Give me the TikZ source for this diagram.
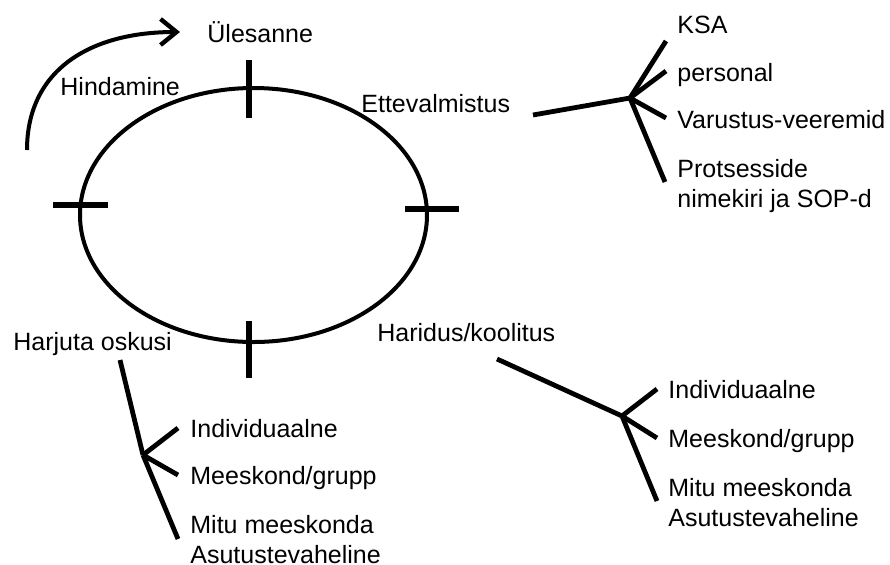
\documentclass[tikz,border=0pt]{standalone}
\usepackage{fontspec}
\setmainfont{Liberation Sans}
\usetikzlibrary{arrows.meta}
\tikzset{
  lbl/.style={anchor=base west, inner sep=0pt, align=left, font=\fontsize{12.5}{15}\selectfont},
  branch/.style={line width=2.4pt, line cap=butt},
  tick/.style={line width=2.6pt},
}
\begin{document}
\begin{tikzpicture}[x=0.5pt, y=-0.5pt]
\def\ringwidth{2pt}
\useasboundingbox (0,0) rectangle (890,564);

% RING
\draw[line width=\ringwidth] (253.5,215) ellipse [x radius=173.5, y radius=127];
\draw[tick] (249,60) -- (249,118);
\draw[tick] (53,205) -- (108,205);
\draw[tick] (405,209) -- (459,209);
\draw[tick] (249,321) -- (249,378);

% CYCLE LABELS
\node[lbl] (task) at (207,42) {Ülesanne};
\node[lbl] (eval) at (60,95) {Hindamine};
\node[lbl] (prep) at (361,112) {Ettevalmistus};
\node[lbl] (edu) at (377,341) {Haridus/koolitus};
\node[lbl] (drill) at (13,350) {Harjuta oskusi};

% ARROW
\coordinate (arrstart) at (27,150);
\coordinate (arrend) at (180,32);
\draw[line width=\ringwidth, -{Straight Barb[length=8pt, width=13pt, line width=2.2pt]}]
  (arrstart) .. controls (27,70) and (90,32) .. (arrend);

\begin{scope} % PREPARATION BRANCH
\coordinate (p0) at (533,115);
\coordinate (pj) at (630,98);
\coordinate (p1) at (666,41);
\coordinate (p2) at (666,71);
\coordinate (p3) at (666,118);
\coordinate (p4) at (665,182);
\draw[branch] (p0) -- (pj);
\draw[branch] (pj) -- (p1);
\draw[branch] (pj) -- (p2);
\draw[branch] (pj) -- (p3);
\draw[branch] (pj) -- (p4);
\node[lbl] (ksa) at (677,33) {KSA};
\node[lbl] (staff) at (677,81) {personal};
\node[lbl] (gear) at (677,128) {Varustus-veeremid};
\node[lbl] (sop) at (677,207) {Protsesside\\nimekiri ja SOP-d};
\end{scope}

\begin{scope} % EDUCATION BRANCH
\coordinate (e0) at (497,359);
\coordinate (ej) at (622,416);
\coordinate (e1) at (657,389);
\coordinate (e2) at (657,438);
\coordinate (e3) at (657,501);
\draw[branch] (e0) -- (ej);
\draw[branch] (ej) -- (e1);
\draw[branch] (ej) -- (e2);
\draw[branch] (ej) -- (e3);
\node[lbl] (eind) at (668,398) {Individuaalne};
\node[lbl] (eteam) at (668,447) {Meeskond/grupp};
\node[lbl] (emulti) at (668,526) {Mitu meeskonda\\Asutustevaheline};
\end{scope}

\begin{scope} % DRILL BRANCH
\coordinate (d0) at (120,360);
\coordinate (dj) at (143,455);
\coordinate (d1) at (178,428);
\coordinate (d2) at (178,475);
\coordinate (d3) at (178,539);
\draw[branch] (d0) -- (dj);
\draw[branch] (dj) -- (d1);
\draw[branch] (dj) -- (d2);
\draw[branch] (dj) -- (d3);
\node[lbl] (dind) at (190,437) {Individuaalne};
\node[lbl] (dteam) at (190,484) {Meeskond/grupp};
\node[lbl] (dmulti) at (190,563) {Mitu meeskonda\\Asutustevaheline};
\end{scope}
\end{tikzpicture}
\end{document}
